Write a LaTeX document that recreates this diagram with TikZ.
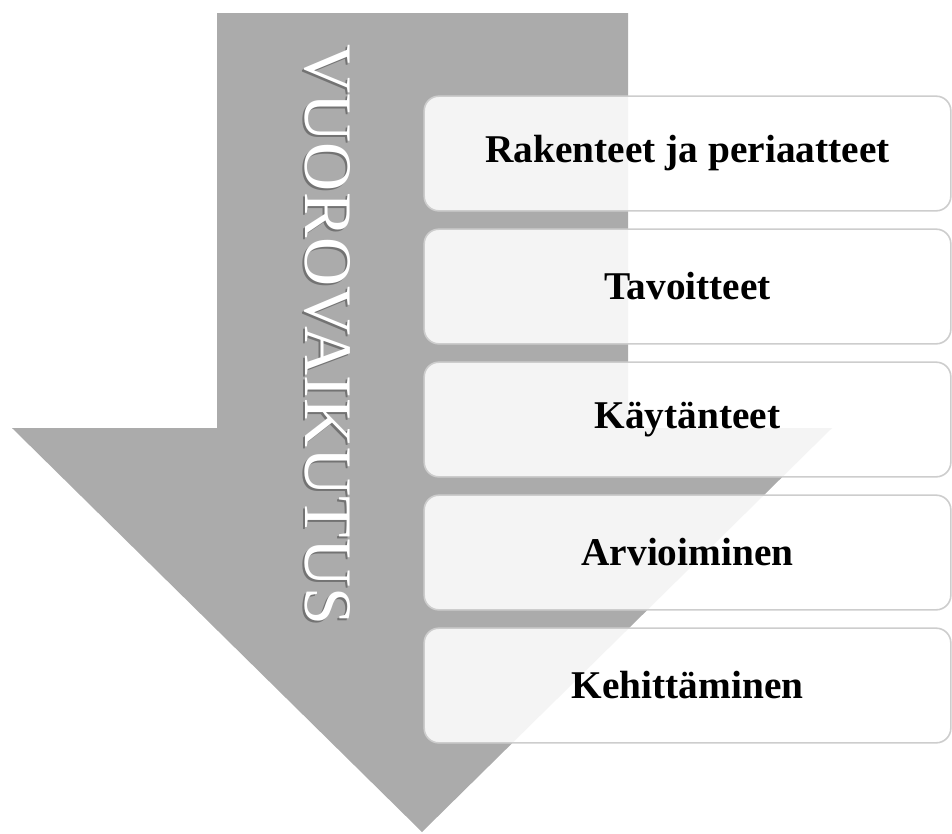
\documentclass[tikz,border=0pt]{standalone}
\usepackage{fontspec}
\setmainfont{Liberation Serif}
\usepackage{tikz}
\usetikzlibrary{positioning}
\definecolor{arrowgray}{RGB}{171,171,171}
\definecolor{boxline}{RGB}{205,205,205}

\tikzset{
    stage/.style={draw=boxline, line width=1.2pt, rounded corners=11pt, fill=white, fill opacity=0.87, text opacity=1,
        minimum width=395pt, minimum height=86pt, font=\fontsize{29.5}{35}\selectfont\bfseries, text=black},
    flowtext/.style={rotate=-90, font=\fontsize{51}{54}\selectfont, inner sep=0pt}
}

\begin{document}
\begin{tikzpicture}[x=0.75pt,y=-0.75pt]
    \useasboundingbox (0,0) rectangle (952,833);
    % big arrow
    \fill[arrowgray] (217,13) -- (628,13) -- (628,428) -- (832,428) -- (422,832) -- (12,428) -- (217,428) -- cycle;
    \node[flowtext, text=black!60, opacity=0.8] (flowshadow) at (325,337) {VUOROVAIKUTUS};
    \node[flowtext, text=white] (flow) at (327,335) {VUOROVAIKUTUS};

    \node[stage] (rakenteet) at (687.5,153.5) {Rakenteet ja periaatteet};
    \node[stage] (tavoitteet) at (687.5,286.5) {Tavoitteet};
    \node[stage] (kaytanteet) at (687.5,419.5) {Käytänteet};
    \node[stage] (arvioiminen) at (687.5,552.5) {Arvioiminen};
    \node[stage] (kehittaminen) at (687.5,685.5) {Kehittäminen};
\end{tikzpicture}
\end{document}
